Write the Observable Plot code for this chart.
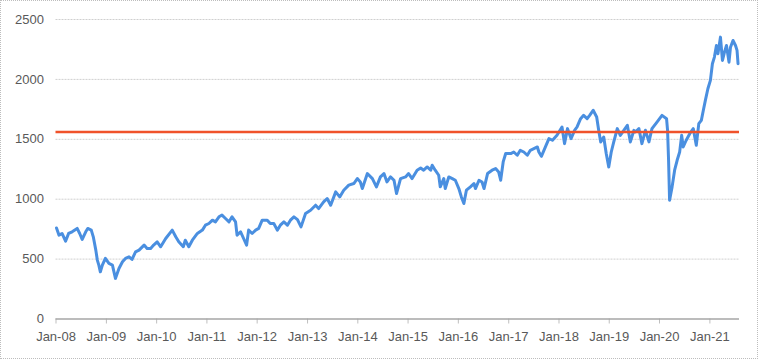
<!DOCTYPE html>
<html>
<head>
<meta charset="utf-8">
<script src="https://cdn.jsdelivr.net/npm/d3@7"></script>
<script src="https://cdn.jsdelivr.net/npm/@observablehq/plot@0.6"></script>
<style>
  html, body { margin: 0; padding: 0; background: #fff; }
  #wrap { position: relative; width: 758px; height: 359px; overflow: hidden; }
  #frame { position: absolute; left: 0; top: 0; width: 758px; height: 359px; box-sizing: border-box; border: 1px dotted #bdbdbd; pointer-events: none; }
</style>
</head>
<body>
<div id="wrap"><div id="frame"></div></div>
<script>
// Dates as decimal years, values of the index
const times = [
  2008.01, 2008.06, 2008.12, 2008.19, 2008.25, 2008.32, 2008.42, 2008.47, 2008.52, 2008.59,
  2008.63, 2008.70, 2008.74, 2008.79, 2008.82, 2008.85, 2008.88, 2008.92, 2008.98, 2009.05,
  2009.12, 2009.18, 2009.25, 2009.32, 2009.38, 2009.45, 2009.51, 2009.58, 2009.65, 2009.75,
  2009.81, 2009.88, 2009.94, 2010.01, 2010.08, 2010.18, 2010.31, 2010.38, 2010.44, 2010.53,
  2010.57, 2010.64, 2010.71, 2010.81, 2010.91, 2010.97, 2011.04, 2011.11, 2011.17, 2011.24,
  2011.30, 2011.37, 2011.44, 2011.50, 2011.57, 2011.60, 2011.67, 2011.73, 2011.79, 2011.83,
  2011.90, 2011.97, 2012.03, 2012.10, 2012.20, 2012.26, 2012.33, 2012.40, 2012.46, 2012.53,
  2012.60, 2012.66, 2012.73, 2012.80, 2012.87, 2012.96, 2013.06, 2013.16, 2013.22, 2013.32,
  2013.39, 2013.46, 2013.56, 2013.64, 2013.72, 2013.82, 2013.92, 2013.99, 2014.05, 2014.09,
  2014.19, 2014.29, 2014.37, 2014.45, 2014.52, 2014.58, 2014.65, 2014.72, 2014.77, 2014.85,
  2014.95, 2015.01, 2015.08, 2015.18, 2015.25, 2015.31, 2015.38, 2015.45, 2015.48, 2015.54,
  2015.61, 2015.64, 2015.71, 2015.74, 2015.81, 2015.88, 2015.94, 2016.01, 2016.06, 2016.11,
  2016.16, 2016.24, 2016.31, 2016.34, 2016.41, 2016.47, 2016.51, 2016.58, 2016.67, 2016.74,
  2016.80, 2016.84, 2016.89, 2016.94, 2017.04, 2017.10, 2017.17, 2017.23, 2017.30, 2017.37,
  2017.43, 2017.50, 2017.57, 2017.60, 2017.65, 2017.73, 2017.80, 2017.87, 2017.96, 2018.06,
  2018.11, 2018.17, 2018.24, 2018.31, 2018.36, 2018.43, 2018.49, 2018.56, 2018.61, 2018.68,
  2018.75, 2018.79, 2018.83, 2018.89, 2018.94, 2018.99, 2019.04, 2019.09, 2019.16, 2019.22,
  2019.29, 2019.36, 2019.42, 2019.49, 2019.52, 2019.59, 2019.65, 2019.72, 2019.79, 2019.85,
  2019.95, 2020.05, 2020.14, 2020.16, 2020.18, 2020.20, 2020.25, 2020.30, 2020.35, 2020.40,
  2020.44, 2020.47, 2020.53, 2020.60, 2020.67, 2020.73, 2020.78, 2020.83, 2020.87, 2020.91,
  2020.96, 2021.01, 2021.05, 2021.09, 2021.13, 2021.16, 2021.21, 2021.25, 2021.29, 2021.33,
  2021.38, 2021.41, 2021.46, 2021.51, 2021.54, 2021.56
];
const values = [
  760, 700, 714, 650, 714, 728, 756, 714, 664, 728,
  756, 742, 686, 575, 492, 450, 394, 450, 506, 464,
  450, 339, 422, 478, 506, 519, 497, 561, 575, 617,
  589, 589, 617, 644, 603, 672, 742, 686, 644, 603,
  658, 603, 658, 714, 742, 783, 797, 825, 811, 853,
  867, 839, 811, 853, 811, 700, 728, 672, 617, 742,
  714, 742, 756, 825, 825, 797, 797, 742, 783, 811,
  783, 825, 853, 830, 769, 881, 908, 950, 922, 978,
  1006, 950, 1061, 1019, 1075, 1117, 1131, 1172, 1144, 1089,
  1214, 1172, 1103, 1186, 1214, 1144, 1186, 1158, 1047, 1172,
  1186, 1214, 1172, 1242, 1260, 1242, 1269, 1242, 1283, 1242,
  1200, 1103, 1172, 1089, 1186, 1172, 1158, 1089, 1019, 964,
  1075, 1103, 1131, 1089, 1158, 1144, 1089, 1214, 1242, 1256,
  1228, 1158, 1311, 1381, 1381, 1394, 1367, 1408, 1394, 1367,
  1408, 1422, 1436, 1394, 1358, 1436, 1506, 1492, 1533, 1603,
  1464, 1589, 1506, 1575, 1603, 1672, 1700, 1672, 1700, 1742,
  1686, 1575, 1478, 1519, 1381, 1269, 1394, 1478, 1589, 1533,
  1575, 1617, 1478, 1575, 1561, 1589, 1464, 1575, 1478, 1589,
  1644, 1700, 1672, 1575, 1325, 992, 1103, 1242, 1325, 1394,
  1533, 1436, 1492, 1547, 1589, 1450, 1631, 1658, 1742, 1825,
  1922, 1992, 2131, 2186, 2283, 2214, 2353, 2158, 2228, 2283,
  2144, 2269, 2325, 2283, 2242, 2131
];
const threshold = 1560;
const tickYears = [2008, 2009, 2010, 2011, 2012, 2013, 2014, 2015, 2016, 2017, 2018, 2019, 2020, 2021];
const tickLabels = ["Jan-08", "Jan-09", "Jan-10", "Jan-11", "Jan-12", "Jan-13", "Jan-14", "Jan-15", "Jan-16", "Jan-17", "Jan-18", "Jan-19", "Jan-20", "Jan-21"];
const yTicks = [0, 500, 1000, 1500, 2000, 2500];
const xStart = "2008-01-01";
const xEnd = "2021-08-04";

function decToDate(t) {
  const y = Math.floor(t);
  const start = Date.UTC(y, 0, 1);
  const end = Date.UTC(y + 1, 0, 1);
  return new Date(start + (t - y) * (end - start));
}
const data = times.map((t, i) => ({date: decToDate(t), value: values[i]}));
const tickDates = tickYears.map(y => new Date(Date.UTC(y, 0, 1)));
const labelOf = new Map(tickDates.map((d, i) => [+d, tickLabels[i]]));
const domainX = [new Date(xStart), new Date(xEnd)];

const chart = Plot.plot({
  width: 758,
  height: 359,
  marginLeft: 55.5,
  marginRight: 19,
  marginTop: 19,
  marginBottom: 40.5,
  style: {fontFamily: "'Liberation Sans', Arial, sans-serif", fontSize: "13px", color: "#595959", background: "transparent"},
  x: {type: "utc", domain: domainX},
  y: {domain: [0, 2500]},
  marks: [
    Plot.gridY(yTicks.filter(v => v > 0), {stroke: "#cfcfcf", strokeOpacity: 1, strokeWidth: 1, strokeDasharray: "2,1"}),
    Plot.axisY({ticks: yTicks, tickSize: 0, tickPadding: 12, label: null, fill: "#595959", fontSize: 13, tickFormat: d => String(d)}),
    Plot.axisX({ticks: tickDates, tickSize: 5, tickPadding: 8, stroke: "#bfbfbf", tickFormat: d => labelOf.get(+d), label: null, fill: "#595959", fontSize: 13}),
    Plot.ruleY([0], {stroke: "#a6a6a6", strokeWidth: 1.5}),
    Plot.line(data, {x: "date", y: "value", stroke: "#4a8fe0", strokeWidth: 3, strokeLinejoin: "round"}),
    Plot.ruleY([threshold], {stroke: "#f0522a", strokeWidth: 2.5})
  ]
});
document.getElementById("wrap").insertBefore(chart, document.getElementById("frame"));
</script>
</body>
</html>
